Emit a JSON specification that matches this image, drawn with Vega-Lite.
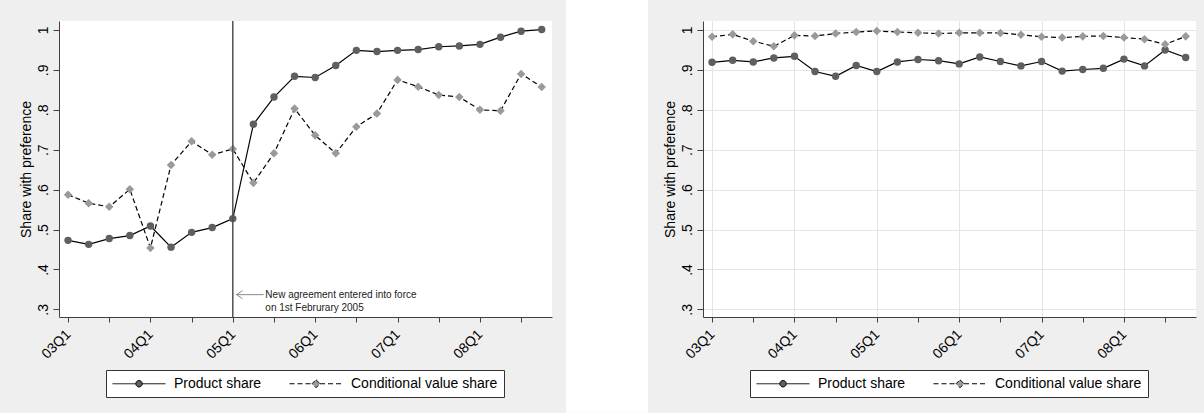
{
  "$schema": "https://vega.github.io/schema/vega-lite/v6.json",
  "background": "#efefef",
  "padding": {"left": 19, "top": 0, "right": 0, "bottom": 0},
  "spacing": 15,
  "resolve": {"scale": {"shape": "independent", "fill": "independent", "strokeDash": "independent", "stroke": "independent"}, "legend": {"shape": "independent", "fill": "independent", "strokeDash": "independent", "stroke": "independent"}},
  "config": {
    "font": "Liberation Sans",
    "view": {"stroke": null, "fill": "white"},
    "axis": {"labelColor": "black", "labelFontSize": 14, "domainColor": "#404040", "tickColor": "#404040", "titleColor": "black", "titleFontSize": 14, "titleFontWeight": "normal", "domainWidth": 1, "tickWidth": 1}
  },
  "datasets": {
    "left": [
      {"q": 0, "series": "Product share", "v": 0.473}, {"q": 1, "series": "Product share", "v": 0.463}, {"q": 2, "series": "Product share", "v": 0.4775}, {"q": 3, "series": "Product share", "v": 0.485},
      {"q": 4, "series": "Product share", "v": 0.509}, {"q": 5, "series": "Product share", "v": 0.456}, {"q": 6, "series": "Product share", "v": 0.493}, {"q": 7, "series": "Product share", "v": 0.505},
      {"q": 8, "series": "Product share", "v": 0.5275}, {"q": 9, "series": "Product share", "v": 0.764}, {"q": 10, "series": "Product share", "v": 0.832}, {"q": 11, "series": "Product share", "v": 0.884},
      {"q": 12, "series": "Product share", "v": 0.881}, {"q": 13, "series": "Product share", "v": 0.911}, {"q": 14, "series": "Product share", "v": 0.949}, {"q": 15, "series": "Product share", "v": 0.946},
      {"q": 16, "series": "Product share", "v": 0.949}, {"q": 17, "series": "Product share", "v": 0.951}, {"q": 18, "series": "Product share", "v": 0.958}, {"q": 19, "series": "Product share", "v": 0.96},
      {"q": 20, "series": "Product share", "v": 0.964}, {"q": 21, "series": "Product share", "v": 0.982}, {"q": 22, "series": "Product share", "v": 0.997}, {"q": 23, "series": "Product share", "v": 1.001},
      {"q": 0, "series": "Conditional value share", "v": 0.5875}, {"q": 1, "series": "Conditional value share", "v": 0.566}, {"q": 2, "series": "Conditional value share", "v": 0.557}, {"q": 3, "series": "Conditional value share", "v": 0.601},
      {"q": 4, "series": "Conditional value share", "v": 0.454}, {"q": 5, "series": "Conditional value share", "v": 0.662}, {"q": 6, "series": "Conditional value share", "v": 0.721}, {"q": 7, "series": "Conditional value share", "v": 0.6875},
      {"q": 8, "series": "Conditional value share", "v": 0.702}, {"q": 9, "series": "Conditional value share", "v": 0.617}, {"q": 10, "series": "Conditional value share", "v": 0.691}, {"q": 11, "series": "Conditional value share", "v": 0.803},
      {"q": 12, "series": "Conditional value share", "v": 0.736}, {"q": 13, "series": "Conditional value share", "v": 0.691}, {"q": 14, "series": "Conditional value share", "v": 0.7575}, {"q": 15, "series": "Conditional value share", "v": 0.791},
      {"q": 16, "series": "Conditional value share", "v": 0.875}, {"q": 17, "series": "Conditional value share", "v": 0.858}, {"q": 18, "series": "Conditional value share", "v": 0.837}, {"q": 19, "series": "Conditional value share", "v": 0.832},
      {"q": 20, "series": "Conditional value share", "v": 0.8}, {"q": 21, "series": "Conditional value share", "v": 0.7975}, {"q": 22, "series": "Conditional value share", "v": 0.89}, {"q": 23, "series": "Conditional value share", "v": 0.857}
    ],
    "right": [
      {"q": 0, "series": "Product share", "v": 0.919}, {"q": 1, "series": "Product share", "v": 0.924}, {"q": 2, "series": "Product share", "v": 0.92}, {"q": 3, "series": "Product share", "v": 0.93},
      {"q": 4, "series": "Product share", "v": 0.934}, {"q": 5, "series": "Product share", "v": 0.896}, {"q": 6, "series": "Product share", "v": 0.884}, {"q": 7, "series": "Product share", "v": 0.911},
      {"q": 8, "series": "Product share", "v": 0.896}, {"q": 9, "series": "Product share", "v": 0.92}, {"q": 10, "series": "Product share", "v": 0.926}, {"q": 11, "series": "Product share", "v": 0.923},
      {"q": 12, "series": "Product share", "v": 0.915}, {"q": 13, "series": "Product share", "v": 0.9325}, {"q": 14, "series": "Product share", "v": 0.921}, {"q": 15, "series": "Product share", "v": 0.91},
      {"q": 16, "series": "Product share", "v": 0.921}, {"q": 17, "series": "Product share", "v": 0.897}, {"q": 18, "series": "Product share", "v": 0.901}, {"q": 19, "series": "Product share", "v": 0.904},
      {"q": 20, "series": "Product share", "v": 0.927}, {"q": 21, "series": "Product share", "v": 0.91}, {"q": 22, "series": "Product share", "v": 0.95}, {"q": 23, "series": "Product share", "v": 0.931},
      {"q": 0, "series": "Conditional value share", "v": 0.983}, {"q": 1, "series": "Conditional value share", "v": 0.989}, {"q": 2, "series": "Conditional value share", "v": 0.972}, {"q": 3, "series": "Conditional value share", "v": 0.959},
      {"q": 4, "series": "Conditional value share", "v": 0.9865}, {"q": 5, "series": "Conditional value share", "v": 0.985}, {"q": 6, "series": "Conditional value share", "v": 0.991}, {"q": 7, "series": "Conditional value share", "v": 0.995},
      {"q": 8, "series": "Conditional value share", "v": 0.9975}, {"q": 9, "series": "Conditional value share", "v": 0.995}, {"q": 10, "series": "Conditional value share", "v": 0.993}, {"q": 11, "series": "Conditional value share", "v": 0.991},
      {"q": 12, "series": "Conditional value share", "v": 0.993}, {"q": 13, "series": "Conditional value share", "v": 0.993}, {"q": 14, "series": "Conditional value share", "v": 0.9925}, {"q": 15, "series": "Conditional value share", "v": 0.988},
      {"q": 16, "series": "Conditional value share", "v": 0.983}, {"q": 17, "series": "Conditional value share", "v": 0.981}, {"q": 18, "series": "Conditional value share", "v": 0.984}, {"q": 19, "series": "Conditional value share", "v": 0.985},
      {"q": 20, "series": "Conditional value share", "v": 0.981}, {"q": 21, "series": "Conditional value share", "v": 0.977}, {"q": 22, "series": "Conditional value share", "v": 0.964}, {"q": 23, "series": "Conditional value share", "v": 0.984}
    ]
  },
  "hconcat": [
    {
      "width": 493,
      "height": 296,
      "data": {"name": "left"},
      "layer": [
        {
          "data": {"values": [{}]},
          "mark": {"type": "rect", "color": "white"},
          "encoding": {
            "x": {"datum": 24.18, "type": "quantitative", "scale": {"domain": [-0.44, 23.5], "nice": false, "zero": false},
              "axis": {"values": [0,1,2,3,4,5,6,7,8,9,10,11,12,13,14,15,16,17,18,19,20,21,22,23], "labelExpr": "datum.value % 4 == 0 ? '0' + (3 + datum.value / 4) + 'Q1' : ''", "labelAngle": -45, "labelAlign": "right", "labelBaseline": "middle", "labelPadding": 10, "tickSize": 5, "labelOverlap": false, "labelFlush": false, "title": null,
                "gridColor": {"condition": {"test": "datum.value % 4 != 0", "value": "transparent"}, "value": "#e4e4e4"}}},
            "x2": {"datum": 28.16},
            "y": {"datum": 1.075, "type": "quantitative", "scale": {"domain": [0.281, 1.0225], "nice": false, "zero": false},
              "axis": {"values": [0.3,0.4,0.5,0.6,0.7,0.8,0.9,1], "labelExpr": "datum.value >= 1 ? '1' : replace(format(datum.value, '.1f'), '0.', '.')", "labelAngle": -90, "labelAlign": "center", "labelBaseline": "alphabetic", "labelPadding": 5.5, "tickSize": 6, "title": "Share with preference", "titlePadding": 4, "minExtent": 22, "maxExtent": 22, "gridColor": "#e4e4e4"}},
            "y2": {"datum": 0.041}
          }
        },
        {
          "transform": [{"filter": "datum.series === 'Product share'"}],
          "mark": {"type": "line", "color": "black", "strokeWidth": 1.2},
          "encoding": {"x": {"field": "q", "type": "quantitative"}, "y": {"field": "v", "type": "quantitative"}}
        },
        {
          "transform": [{"filter": "datum.series === 'Conditional value share'"}],
          "mark": {"type": "line", "color": "black", "strokeWidth": 1.2, "strokeDash": [5, 3]},
          "encoding": {"x": {"field": "q", "type": "quantitative"}, "y": {"field": "v", "type": "quantitative"}}
        },
        {
          "transform": [{"filter": "datum.series === 'Product share'"}],
          "mark": {"type": "point", "filled": true, "opacity": 1, "size": 55, "shape": "circle", "color": "#5f5f5f"},
          "encoding": {"x": {"field": "q", "type": "quantitative"}, "y": {"field": "v", "type": "quantitative"}}
        },
        {
          "transform": [{"filter": "datum.series === 'Conditional value share'"}],
          "mark": {"type": "point", "filled": true, "opacity": 1, "size": 55, "shape": "M0,-1.15L1.15,0L0,1.15L-1.15,0Z", "color": "#9a9a9a"},
          "encoding": {"x": {"field": "q", "type": "quantitative"}, "y": {"field": "v", "type": "quantitative"}}
        },
        {
          "mark": {"type": "point", "filled": true, "opacity": 0, "strokeWidth": 1},
          "encoding": {
            "x": {"field": "q", "type": "quantitative"},
            "y": {"field": "v", "type": "quantitative"},
            "shape": {"field": "series", "type": "nominal", "scale": {"domain": ["Product share", "Conditional value share"], "range": ["M-1,0L2.33,0M3.25,0L6.57,0M2.33,0A0.46,0.46,0,1,1,3.25,0A0.46,0.46,0,1,1,2.33,0Z", "M-1,0L2.22,0M3.36,0L6.57,0M2.79,-0.57L3.36,0L2.79,0.57L2.22,0Z"]},
              "legend": {"orient": "none", "legendX": 47, "legendY": 349, "direction": "horizontal", "columns": 2, "title": null, "fillColor": "white", "strokeColor": "#333333", "padding": 6, "columnPadding": 25, "labelOffset": 47, "labelFontSize": 14, "labelColor": "black", "labelLimit": 300, "symbolSize": 196, "symbolStrokeWidth": 1, "symbolStrokeColor": "black", "symbolOpacity": 1}},
            "fill": {"field": "series", "type": "nominal", "scale": {"domain": ["Product share", "Conditional value share"], "range": ["#5f5f5f", "#9a9a9a"]},
              "legend": {"orient": "none", "legendX": 47, "legendY": 349, "direction": "horizontal", "columns": 2, "title": null, "fillColor": "white", "strokeColor": "#333333", "padding": 6, "columnPadding": 25, "labelOffset": 47, "labelFontSize": 14, "labelColor": "black", "labelLimit": 300, "symbolSize": 196, "symbolStrokeWidth": 1, "symbolStrokeColor": "black", "symbolOpacity": 1}},
            "stroke": {"field": "series", "type": "nominal", "scale": {"domain": ["Product share", "Conditional value share"], "range": ["#000000", "#000000"]},
              "legend": {"orient": "none", "legendX": 47, "legendY": 349, "direction": "horizontal", "columns": 2, "title": null, "fillColor": "white", "strokeColor": "#333333", "padding": 6, "columnPadding": 25, "labelOffset": 47, "labelFontSize": 14, "labelColor": "black", "labelLimit": 300, "symbolSize": 196, "symbolStrokeWidth": 1, "symbolStrokeColor": "black", "symbolOpacity": 1}},
            "strokeDash": {"field": "series", "type": "nominal", "scale": {"domain": ["Product share", "Conditional value share"], "range": [[1, 0], [5, 3]]},
              "legend": {"orient": "none", "legendX": 47, "legendY": 349, "direction": "horizontal", "columns": 2, "title": null, "fillColor": "white", "strokeColor": "#333333", "padding": 6, "columnPadding": 25, "labelOffset": 47, "labelFontSize": 14, "labelColor": "black", "labelLimit": 300, "symbolSize": 196, "symbolStrokeWidth": 1, "symbolStrokeColor": "black", "symbolOpacity": 1}}
          }
        },
        {
          "data": {"values": [{}]},
          "mark": {"type": "rule", "color": "#505050", "strokeWidth": 1.5},
          "encoding": {"x": {"datum": 8, "type": "quantitative"}}
        },
        {
          "data": {"values": [{}]},
          "mark": {"type": "rule", "color": "#8a8a8a", "strokeWidth": 1},
          "encoding": {"x": {"datum": 8.18, "type": "quantitative"}, "x2": {"datum": 9.5}, "y": {"datum": 0.337, "type": "quantitative"}}
        },
        {
          "data": {"values": [{}]},
          "mark": {"type": "point", "shape": "M1.2,-0.8L0,0L1.2,0.8", "size": 100, "filled": false, "color": "#8a8a8a", "strokeWidth": 1, "opacity": 1},
          "encoding": {"x": {"datum": 8.18, "type": "quantitative"}, "y": {"datum": 0.337, "type": "quantitative"}}
        },
        {
          "data": {"values": [{}]},
          "mark": {"type": "text", "text": ["New agreement entered into force", "on 1st Februrary 2005"], "align": "left", "baseline": "middle", "fontSize": 10, "lineHeight": 12.7, "color": "#222222"},
          "encoding": {"x": {"datum": 9.58, "type": "quantitative"}, "y": {"datum": 0.336, "type": "quantitative"}}
        }
      ]
    },
    {
      "width": 493,
      "height": 296,
      "data": {"name": "right"},
      "layer": [
        {
          "transform": [{"filter": "datum.series === 'Product share'"}],
          "mark": {"type": "line", "color": "black", "strokeWidth": 1.2},
          "encoding": {
            "x": {"field": "q", "type": "quantitative", "scale": {"domain": [-0.44, 23.5], "nice": false, "zero": false},
              "axis": {"values": [0,1,2,3,4,5,6,7,8,9,10,11,12,13,14,15,16,17,18,19,20,21,22,23], "labelExpr": "datum.value % 4 == 0 ? '0' + (3 + datum.value / 4) + 'Q1' : ''", "labelAngle": -45, "labelAlign": "right", "labelBaseline": "middle", "labelPadding": 10, "tickSize": 5, "labelOverlap": false, "labelFlush": false, "title": null,
                "gridColor": {"condition": {"test": "datum.value % 4 != 0", "value": "transparent"}, "value": "#e4e4e4"}}},
            "y": {"field": "v", "type": "quantitative", "scale": {"domain": [0.281, 1.0225], "nice": false, "zero": false},
              "axis": {"values": [0.3,0.4,0.5,0.6,0.7,0.8,0.9,1], "labelExpr": "datum.value >= 1 ? '1' : replace(format(datum.value, '.1f'), '0.', '.')", "labelAngle": -90, "labelAlign": "center", "labelBaseline": "alphabetic", "labelPadding": 5.5, "tickSize": 6, "title": "Share with preference", "titlePadding": 4, "minExtent": 22, "maxExtent": 22, "gridColor": "#e4e4e4"}}
          }
        },
        {
          "transform": [{"filter": "datum.series === 'Conditional value share'"}],
          "mark": {"type": "line", "color": "black", "strokeWidth": 1.2, "strokeDash": [5, 3]},
          "encoding": {"x": {"field": "q", "type": "quantitative"}, "y": {"field": "v", "type": "quantitative"}}
        },
        {
          "transform": [{"filter": "datum.series === 'Product share'"}],
          "mark": {"type": "point", "filled": true, "opacity": 1, "size": 55, "shape": "circle", "color": "#5f5f5f"},
          "encoding": {"x": {"field": "q", "type": "quantitative"}, "y": {"field": "v", "type": "quantitative"}}
        },
        {
          "transform": [{"filter": "datum.series === 'Conditional value share'"}],
          "mark": {"type": "point", "filled": true, "opacity": 1, "size": 55, "shape": "M0,-1.15L1.15,0L0,1.15L-1.15,0Z", "color": "#9a9a9a"},
          "encoding": {"x": {"field": "q", "type": "quantitative"}, "y": {"field": "v", "type": "quantitative"}}
        },
        {
          "mark": {"type": "point", "filled": true, "opacity": 0, "strokeWidth": 1},
          "encoding": {
            "x": {"field": "q", "type": "quantitative"},
            "y": {"field": "v", "type": "quantitative"},
            "shape": {"field": "series", "type": "nominal", "scale": {"domain": ["Product share", "Conditional value share"], "range": ["M-1,0L2.33,0M3.25,0L6.57,0M2.33,0A0.46,0.46,0,1,1,3.25,0A0.46,0.46,0,1,1,2.33,0Z", "M-1,0L2.22,0M3.36,0L6.57,0M2.79,-0.57L3.36,0L2.79,0.57L2.22,0Z"]},
              "legend": {"orient": "none", "legendX": 47, "legendY": 349, "direction": "horizontal", "columns": 2, "title": null, "fillColor": "white", "strokeColor": "#333333", "padding": 6, "columnPadding": 25, "labelOffset": 47, "labelFontSize": 14, "labelColor": "black", "labelLimit": 300, "symbolSize": 196, "symbolStrokeWidth": 1, "symbolStrokeColor": "black", "symbolOpacity": 1}},
            "fill": {"field": "series", "type": "nominal", "scale": {"domain": ["Product share", "Conditional value share"], "range": ["#5f5f5f", "#9a9a9a"]},
              "legend": {"orient": "none", "legendX": 47, "legendY": 349, "direction": "horizontal", "columns": 2, "title": null, "fillColor": "white", "strokeColor": "#333333", "padding": 6, "columnPadding": 25, "labelOffset": 47, "labelFontSize": 14, "labelColor": "black", "labelLimit": 300, "symbolSize": 196, "symbolStrokeWidth": 1, "symbolStrokeColor": "black", "symbolOpacity": 1}},
            "stroke": {"field": "series", "type": "nominal", "scale": {"domain": ["Product share", "Conditional value share"], "range": ["#000000", "#000000"]},
              "legend": {"orient": "none", "legendX": 47, "legendY": 349, "direction": "horizontal", "columns": 2, "title": null, "fillColor": "white", "strokeColor": "#333333", "padding": 6, "columnPadding": 25, "labelOffset": 47, "labelFontSize": 14, "labelColor": "black", "labelLimit": 300, "symbolSize": 196, "symbolStrokeWidth": 1, "symbolStrokeColor": "black", "symbolOpacity": 1}},
            "strokeDash": {"field": "series", "type": "nominal", "scale": {"domain": ["Product share", "Conditional value share"], "range": [[1, 0], [5, 3]]},
              "legend": {"orient": "none", "legendX": 47, "legendY": 349, "direction": "horizontal", "columns": 2, "title": null, "fillColor": "white", "strokeColor": "#333333", "padding": 6, "columnPadding": 25, "labelOffset": 47, "labelFontSize": 14, "labelColor": "black", "labelLimit": 300, "symbolSize": 196, "symbolStrokeWidth": 1, "symbolStrokeColor": "black", "symbolOpacity": 1}}
          }
        }
      ]
    }
  ]
}
